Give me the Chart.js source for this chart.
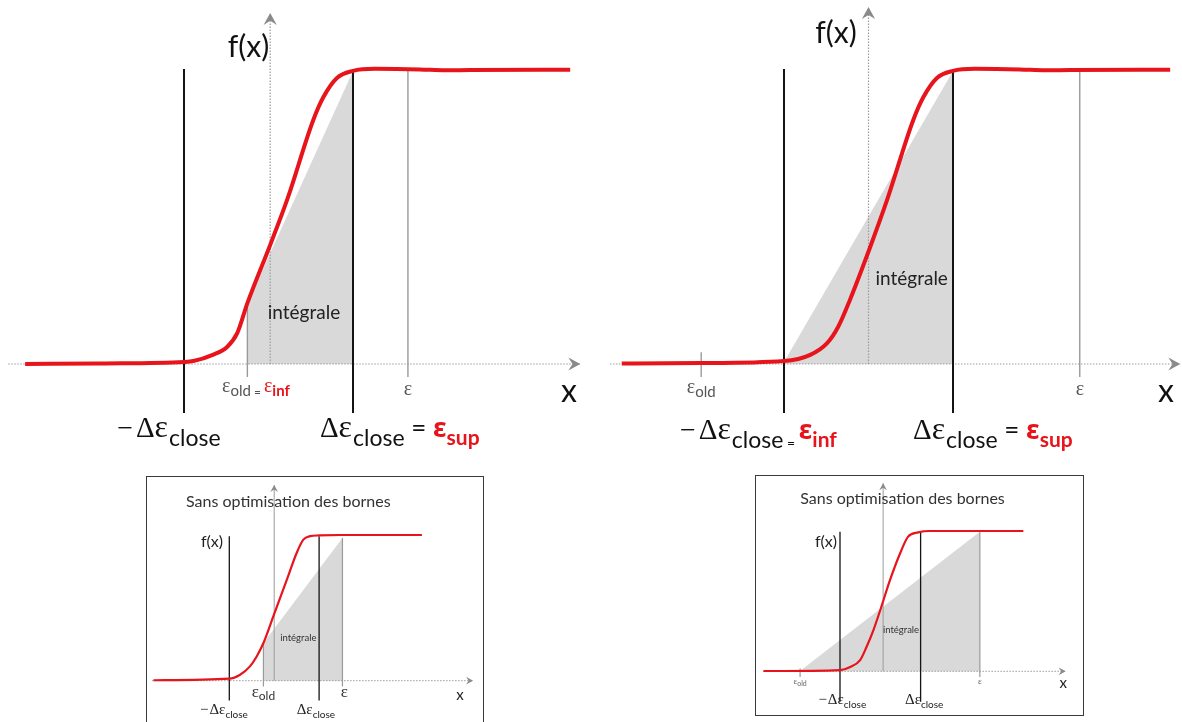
<!DOCTYPE html>
<html><head><meta charset="utf-8">
<script src="https://cdn.jsdelivr.net/npm/chart.js@4.4.1/dist/chart.umd.min.js"></script>
<style>
html,body{margin:0;padding:0;background:#fff;width:1182px;height:722px;overflow:hidden;}
canvas{position:absolute;}
.box{position:absolute;border:1.5px solid #3a3a3a;box-sizing:border-box;}
</style></head><body>
<div class="box" style="left:146px;top:476px;width:338px;height:262px"></div>
<div class="box" style="left:755px;top:475px;width:329px;height:241px"></div>
<canvas id="c1"></canvas><canvas id="c2"></canvas><canvas id="c3"></canvas><canvas id="c4"></canvas>
<script>
// ===== DATA (abstract units: x = ±1 at ∓Δε_close, f(x) plateau = 1) =====
// Panel 1 : top-left
const p1CurveX = [-2.88,-1.99,-1.00,-0.89,-0.66,-0.49,-0.37,-0.25,0.02,0.22,0.53,0.65,0.81,1.00,1.26,1.79,2.09,2.39,3.57];
const p1CurveY = [0.000,0.002,0.007,0.010,0.031,0.058,0.105,0.207,0.405,0.558,0.830,0.908,0.973,0.997,1.004,1.002,0.999,1.000,1.001];
const p1FillX = [-0.25, 1.00];
const p1FillY = [0.207, 0.997];
const p1Marks = {deltaClose:[-1,1], epsOld:-0.25, eps:1.65};
// Panel 2 : top-right
const p2CurveX = [-2.92,-1.99,-1.00,-0.69,-0.49,-0.36,-0.22,0.02,0.22,0.53,0.65,0.81,1.00,1.26,1.79,2.09,2.39,3.57];
const p2CurveY = [0.002,0.003,0.010,0.031,0.071,0.126,0.218,0.398,0.558,0.830,0.908,0.973,0.997,1.004,1.002,0.999,1.000,1.001];
const p2FillX = [-1.00, 1.00];
const p2FillY = [0.007, 0.997];
const p2Marks = {deltaClose:[-1,1], epsOld:-1.98, eps:2.50};
// Panel 3 : bottom-left inset
const p3CurveX = [-2.69,-1.00,-0.76,-0.54,-0.39,-0.24,-0.02,0.28,0.50,0.65,0.80,1.00,1.47,3.29];
const p3CurveY = [0.003,0.014,0.041,0.098,0.166,0.258,0.440,0.690,0.875,0.966,0.990,0.995,0.998,0.998];
const p3FillX = [-0.24, 1.52];
const p3FillY = [0.258, 0.977];
const p3Marks = {deltaClose:[-1,1], epsOld:-0.24, eps:1.52};
// Panel 4 : bottom-right inset
const p4CurveX = [-2.90,-1.00,-0.76,-0.50,-0.34,-0.17,0.00,0.24,0.49,0.69,0.94,1.23,3.55];
const p4CurveY = [0.002,0.009,0.029,0.080,0.175,0.294,0.437,0.650,0.840,0.960,0.990,1.000,1.000];
const p4FillX = [-2.00, 2.47];
const p4FillY = [0.000, 0.995];
const p4Marks = {deltaClose:[-1,1], epsOld:-1.99, eps:2.47};
const insetTitle = 'Sans optimisation des bornes';

// ===== STYLE =====
const RED = '#e8141b', GRAY_FILL = '#d9d9d9', AX = '#9c9c9c';
const SERIF = '"Liberation Serif", serif';
const SANS = 'Lato, "Open Sans", sans-serif';
const GRK = '"Noto Sans", "DejaVu Sans", sans-serif';

function pts(xs, ys){ return xs.map((x,i)=>({x, y:ys[i]})); }
function seg(x1,y1,x2,y2){ return [{x:x1,y:y1},{x:x2,y:y2}]; }

function drawRich(ctx, x, y, parts, align, base){
  let w = 0;
  parts.forEach(p=>{ ctx.font=p.f; p.w = ctx.measureText(p.t).width + (p.gap||0); w += p.w; });
  let cx = align==='center' ? x - w/2 : (align==='right' ? x - w : x);
  ctx.textBaseline = base || 'alphabetic';
  ctx.textAlign = 'left';
  parts.forEach(p=>{ ctx.font=p.f; ctx.fillStyle=p.c; ctx.fillText(p.t, cx, y + (p.dy||0)); cx += p.w; });
}
function arrowHead(ctx, x, y, dir, s){
  ctx.save(); ctx.translate(x,y); if(dir==='u') ctx.rotate(-Math.PI/2);
  ctx.beginPath(); ctx.moveTo(0,0); ctx.lineTo(-s,-s*0.55); ctx.lineTo(-s*0.65,0); ctx.lineTo(-s,s*0.55); ctx.closePath();
  ctx.fillStyle = '#8a8a8a'; ctx.fill(); ctx.restore();
}

function makePanel(id, rect, map, cfg){
  const cv = document.getElementById(id);
  cv.width = rect.w; cv.height = rect.h;
  cv.style.left = rect.left+'px'; cv.style.top = rect.top+'px';
  cv.style.width = rect.w+'px'; cv.style.height = rect.h+'px';
  const x0 = map.x0 - rect.left, y0 = map.y0 - rect.top;
  const xmin = -x0/map.ux, xmax = (rect.w - x0)/map.ux;
  const ymin = (y0 - rect.h)/map.uy, ymax = y0/map.uy;
  const m = cfg.marks;
  const ds = [];
  ds.push({data: pts(cfg.fillX, cfg.fillY), fill:'origin', backgroundColor:GRAY_FILL, borderWidth:0, order:6});
  ds.push({data: seg(cfg.axisX[0],0,cfg.axisX[1],0), borderColor:AX, borderWidth:cfg.axW, borderDash:[1.5,1.5], order:5});
  ds.push({data: seg(cfg.yAxisAt,0,cfg.yAxisAt,cfg.yAxisTop), borderColor:AX, borderWidth:cfg.axW, borderDash:cfg.vDash, order:5});
  ds.push({data: seg(m.epsOld,cfg.epsOldV[0],m.epsOld,cfg.epsOldV[1]), borderColor:'#9a9a9a', borderWidth:cfg.gW, order:4});
  ds.push({data: seg(m.eps,cfg.epsV[0],m.eps,cfg.epsV[1]), borderColor:'#9a9a9a', borderWidth:cfg.gW, order:4});
  m.deltaClose.forEach(d=> ds.push({data: seg(d,cfg.blackV[0],d,cfg.blackV[1]), borderColor:'#141414', borderWidth:cfg.bW, order:3}));
  ds.push({data: pts(cfg.curveX, cfg.curveY), borderColor:RED, borderWidth:cfg.rW, cubicInterpolationMode:'monotone', order:1});
  ds.forEach(d=>{ d.showLine = true; d.pointRadius = 0; if(d.fill===undefined) d.fill=false; });

  const decor = {
    id:'decor'+id,
    afterDraw(chart){
      const ctx = chart.ctx, sx = chart.scales.x, sy = chart.scales.y;
      arrowHead(ctx, sx.getPixelForValue(cfg.axisX[1]), sy.getPixelForValue(0), 'r', cfg.arrS);
      arrowHead(ctx, sx.getPixelForValue(cfg.yAxisAt), sy.getPixelForValue(cfg.yAxisTop), 'u', cfg.arrS);
      cfg.labels.forEach(l=> drawRich(ctx, sx.getPixelForValue(l.u), sy.getPixelForValue(l.v), l.parts, l.align, l.base));
    }
  };
  new Chart(cv, {
    type:'scatter',
    data:{datasets:ds},
    options:{
      responsive:false, animation:false, devicePixelRatio:1,
      layout:{padding:0},
      plugins:{legend:{display:false}, tooltip:{enabled:false}},
      scales:{ x:{type:'linear', min:xmin, max:xmax, display:false}, y:{type:'linear', min:ymin, max:ymax, display:false} }
    },
    plugins:[decor]
  });
}

// label helpers
const big = (col)=>[{t:'−',f:`28px ${SERIF}`,c:col,gap:3},{t:'Δ',f:`29px ${SERIF}`,c:col},{t:'ε',f:`32px ${SERIF}`,c:col,gap:1}];
const dEps = (col)=>[{t:'Δ',f:`29px ${SERIF}`,c:col},{t:'ε',f:`32px ${SERIF}`,c:col,gap:1}];
const close = {t:'close', f:`23px ${SANS}`, c:'#111', dy:9};
const redEps = (sub)=>[{t:'ε',f:`700 27px ${GRK}`,c:RED},{t:sub,f:`700 21px ${SANS}`,c:RED,dy:8}];

makePanel('c1', {left:0, top:0, w:600, h:470}, {x0:268.5, ux:84.5, y0:364, uy:294}, {
  curveX:p1CurveX, curveY:p1CurveY, fillX:p1FillX, fillY:p1FillY, marks:p1Marks,
  axisX:[-3.08,3.69], yAxisAt:0.02, yAxisTop:1.194, vDash:[1.5,1.5],
  epsOldV:[0.207,-0.044], epsV:[1.0,-0.044], blackV:[1.003,-0.167],
  axW:1.2, gW:1.4, bW:2, rW:4, arrS:12,
  labels:[
    {u:-0.237, v:1.044, align:'center', parts:[{t:'f(x)', f:`30px ${SANS}`, c:'#111'}]},
    {u:3.556, v:-0.129, align:'center', parts:[{t:'x', f:`32px ${SANS}`, c:'#111'}]},
    {u:0.420, v:0.173, align:'center', base:'middle', parts:[{t:'intégrale', f:`19px ${SANS}`, c:'#222'}]},
    {u:-0.550, v:-0.095, align:'left', parts:[{t:'ε',f:`20px ${SERIF}`,c:'#555'},{t:'old',f:`15px ${SANS}`,c:'#555',dy:4},{t:' = ',f:`12px ${SANS}`,c:'#555',dy:4},{t:'ε',f:`20px ${SERIF}`,c:RED},{t:'inf',f:`700 15px ${SANS}`,c:RED,dy:4}]},
    {u:1.651, v:-0.105, align:'center', parts:[{t:'ε',f:`20px ${SERIF}`,c:'#555'}]},
    {u:-1.791, v:-0.248, align:'left', parts:[...big('#111'), close]},
    {u:0.609, v:-0.248, align:'left', parts:[...dEps('#111'), close, {t:' = ',f:`26px ${SANS}`,c:'#111'}, ...redEps('sup')]}
  ]
});

makePanel('c2', {left:600, top:0, w:582, h:470}, {x0:868.5, ux:84.5, y0:364, uy:294}, {
  curveX:p2CurveX, curveY:p2CurveY, fillX:p2FillX, fillY:p2FillY, marks:p2Marks,
  axisX:[-3.06,3.69], yAxisAt:0.0, yAxisTop:1.214, vDash:[1.5,1.5],
  epsOldV:[0.04,-0.044], epsV:[1.0,-0.044], blackV:[1.003,-0.167],
  axW:1.2, gW:1.4, bW:2, rW:4, arrS:12,
  labels:[
    {u:-0.385, v:1.092, align:'center', parts:[{t:'f(x)', f:`30px ${SANS}`, c:'#111'}]},
    {u:3.521, v:-0.129, align:'center', parts:[{t:'x', f:`32px ${SANS}`, c:'#111'}]},
    {u:0.511, v:0.289, align:'center', base:'middle', parts:[{t:'intégrale', f:`19px ${SANS}`, c:'#222'}]},
    {u:-1.98, v:-0.099, align:'center', parts:[{t:'ε',f:`20px ${SERIF}`,c:'#555'},{t:'old',f:`15px ${SANS}`,c:'#555',dy:4}]},
    {u:2.503, v:-0.105, align:'center', parts:[{t:'ε',f:`20px ${SERIF}`,c:'#555'}]},
    {u:-2.231, v:-0.255, align:'left', parts:[...big('#111'), close, {t:' = ',f:`14px ${SANS}`,c:'#111',dy:9}, ...redEps('inf')]},
    {u:0.527, v:-0.255, align:'left', parts:[...dEps('#111'), close, {t:' = ',f:`26px ${SANS}`,c:'#111'}, ...redEps('sup')]}
  ]
});

const smallBig = (col)=>[{t:'−',f:`15px ${SERIF}`,c:col,gap:1},{t:'Δε',f:`15px ${SERIF}`,c:col}];
const smallClose = {t:'close', f:`10px ${SANS}`, c:'#222', dy:4};

makePanel('c3', {left:148, top:478, w:334, h:244}, {x0:274.2, ux:44.9, y0:680.7, uy:146}, {
  curveX:p3CurveX, curveY:p3CurveY, fillX:p3FillX, fillY:p3FillY, marks:p3Marks,
  axisX:[-2.72,4.43], yAxisAt:0.0, yAxisTop:1.34, vDash:[],
  epsOldV:[0.258,-0.04], epsV:[0.977,-0.04], blackV:[0.99,-0.135],
  axW:1, gW:1.2, bW:1.3, rW:2.2, arrS:7,
  labels:[
    {u:0.314, v:1.226, align:'center', base:'middle', parts:[{t:insetTitle, f:`16px ${SANS}`, c:'#333'}]},
    {u:-1.385, v:0.952, align:'center', base:'middle', parts:[{t:'f(x)', f:`16px ${SANS}`, c:'#222'}]},
    {u:0.537, v:0.29, align:'center', base:'middle', parts:[{t:'intégrale', f:`9.5px ${SANS}`, c:'#333'}]},
    {u:-0.24, v:-0.112, align:'center', parts:[{t:'ε',f:`17px ${SERIF}`,c:'#333'},{t:'old',f:`12px ${SANS}`,c:'#333',dy:3}]},
    {u:1.56, v:-0.112, align:'center', parts:[{t:'ε',f:`17px ${SERIF}`,c:'#333'}]},
    {u:4.14, v:-0.132, align:'center', parts:[{t:'x', f:`15px ${SANS}`, c:'#222'}]},
    {u:-1.653, v:-0.228, align:'left', parts:[...smallBig('#222'), smallClose]},
    {u:0.501, v:-0.228, align:'left', parts:[{t:'Δε',f:`15px ${SERIF}`,c:'#222'}, smallClose]}
  ]
});

makePanel('c4', {left:757, top:477, w:325, h:237}, {x0:880.3, ux:40.3, y0:671.3, uy:140.3}, {
  curveX:p4CurveX, curveY:p4CurveY, fillX:p4FillX, fillY:p4FillY, marks:p4Marks,
  axisX:[-2.90,4.60], yAxisAt:0.07, yAxisTop:1.34, vDash:[],
  epsOldV:[0.02,-0.04], epsV:[0.995,-0.04], blackV:[0.995,-0.217],
  axW:1, gW:1.2, bW:1.3, rW:2.2, arrS:7,
  labels:[
    {u:0.551, v:1.231, align:'center', base:'middle', parts:[{t:insetTitle, f:`16px ${SANS}`, c:'#333'}]},
    {u:-1.347, v:0.924, align:'center', base:'middle', parts:[{t:'f(x)', f:`16px ${SANS}`, c:'#222'}]},
    {u:0.514, v:0.294, align:'center', base:'middle', parts:[{t:'intégrale', f:`9.5px ${SANS}`, c:'#333'}]},
    {u:-1.99, v:-0.09, align:'center', parts:[{t:'ε',f:`9px ${SERIF}`,c:'#666'},{t:'old',f:`7px ${SANS}`,c:'#666',dy:2}]},
    {u:2.47, v:-0.09, align:'center', parts:[{t:'ε',f:`9px ${SERIF}`,c:'#666'}]},
    {u:4.54, v:-0.12, align:'center', parts:[{t:'x', f:`15px ${SANS}`, c:'#222'}]},
    {u:-1.536, v:-0.233, align:'left', parts:[...smallBig('#222'), smallClose]},
    {u:0.613, v:-0.233, align:'left', parts:[{t:'Δε',f:`15px ${SERIF}`,c:'#222'}, smallClose]}
  ]
});
</script>
</body></html>
